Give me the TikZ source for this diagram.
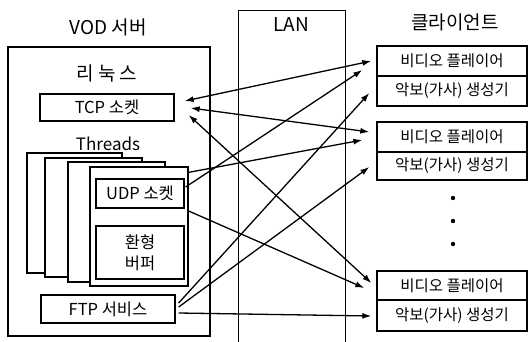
\documentclass[tikz,border=0pt]{standalone}
\usepackage{fontspec}
\setmainfont{Noto Sans CJK KR}
\usetikzlibrary{arrows.meta,calc}
\begin{document}
\begin{tikzpicture}[x=1pt,y=-1pt,
  box/.style={draw,line width=1.3pt,fill=white,inner sep=0pt,align=center,font=\fontsize{16.5}{21}\selectfont},
  thr/.style={draw,line width=1.3pt,fill=white,inner sep=0pt},
  cbox/.style={draw,line width=1.3pt,inner sep=0pt,minimum width=150pt,font=\fontsize{15.5}{18}\selectfont},
  lbl/.style={inner sep=0pt,font=\fontsize{19}{22}\selectfont},
  arr/.style={line width=1.3pt,-{Latex[length=9pt,width=6pt]}},
  darr/.style={line width=1.3pt,{Latex[length=9pt,width=6pt]}-{Latex[length=9pt,width=6pt]}}]
\useasboundingbox (0,0) rectangle (528,341);
% server
\node[draw,line width=1.6pt,minimum width=202pt,minimum height=289pt,inner sep=0pt] (srv) at (109,191.5) {};
\node[lbl] (vod) at (108,27) {VOD 서버};
\node[lbl] (linux) at (107,73) {리 눅 스};
\node[box,minimum width=134pt,minimum height=27pt] (tcp) at (107,107.5) {TCP 소켓};
\node[lbl,font=\fontsize{17}{20}\selectfont] (thrl) at (108,144) {Threads};
\node[thr,minimum width=95pt,minimum height=120pt] (t1) at (74.5,213) {};
\node[thr,minimum width=97pt,minimum height=119pt] (t2) at (93.5,217.5) {};
\node[thr,minimum width=97pt,minimum height=120pt] (t3) at (116.5,222) {};
\node[thr,minimum width=98pt,minimum height=119pt] (t4) at (139,226.5) {};
\node[box,minimum width=88pt,minimum height=29pt] (udp) at (140,193.5) {UDP 소켓};
\node[box,minimum width=88pt,minimum height=53pt] (ring) at (140,252.5) {환형\\버퍼};
\node[box,minimum width=134pt,minimum height=28pt] (ftp) at (108,309) {FTP 서비스};
% LAN
\coordinate (lanTL) at (238,10);
\coordinate (lanTR) at (345,10);
\coordinate (lanBL) at (238,342);
\coordinate (lanBR) at (345,342);
\draw[line width=0.9pt] (lanBL) -- (lanTL) -- (lanTR) -- (lanBR);
\node[lbl] (lan) at (291,25) {LAN};
% clients
\node[lbl] (cl) at (455,22) {클라이언트};
\node[cbox,minimum height=30pt] (c1v) at (452,61) {비디오 플레이어};
\node[cbox,minimum height=30pt] (c1s) at (452,91) {악보(가사) 생성기};
\node[cbox,minimum height=30pt] (c2v) at (452,137) {비디오 플레이어};
\node[cbox,minimum height=28pt] (c2s) at (452,166) {악보(가사) 생성기};
\node[cbox,minimum height=29pt] (c3v) at (452,285.5) {비디오 플레이어};
\node[cbox,minimum height=31pt] (c3s) at (452,315.5) {악보(가사) 생성기};
\fill (453,198) circle (2.2pt) (453,221) circle (2.2pt) (453,244) circle (2.2pt);
% arrows
\draw[darr] ($(tcp.east)+(10,-6.5)$) -- ($(c1v.west)+(-5,0)$);
\draw[darr] ($(tcp.east)+(16,0.5)$) -- ($(c2v.west)+(-7,-5)$);
\draw[darr] ($(tcp.east)+(14,7.5)$) -- ($(c3v.west)+(-5,-2.5)$);
\draw[arr] ($(udp.east)+(1,-6.5)$) -- ($(c1v.west)+(-14,9)$);
\draw[arr] ($(t4.north east)+(0,6)$) -- ($(c2v.west)+(-14,3)$);
\draw[arr] ($(t4.east)+(0,-15.5)$) -- ($(c3v.west)+(-12,2.5)$);
\draw[arr] ($(ftp.east)+(3,-6)$) -- ($(c1s.west)+(-7,2)$);
\draw[arr] ($(ftp.east)+(3,-2)$) -- ($(c2s.west)+(-7,1)$);
\draw[arr] ($(ftp.east)+(3,4)$) -- ($(c3s.west)+(-5,0.5)$);
\end{tikzpicture}
\end{document}
